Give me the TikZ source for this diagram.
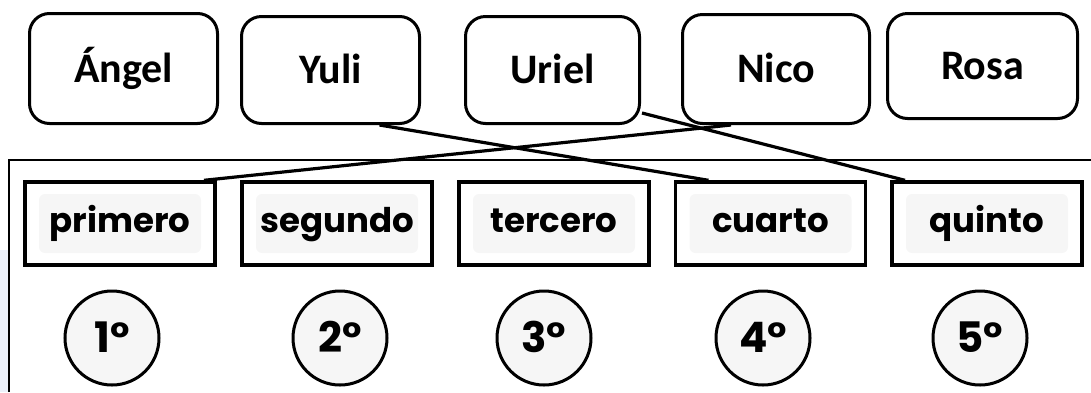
\documentclass[tikz,border=0pt]{standalone}
\usepackage{fontspec}
\newfontfamily\namefont{Carlito}
\newfontfamily\wordfont{Poppins}
\definecolor{edgeblue}{RGB}{236,241,250}
\begin{document}
\begin{tikzpicture}[x=1pt,y=-1pt,
  namebox/.style={draw, line width=3pt, rounded corners=20pt, inner sep=0pt,
    font=\namefont\bfseries\fontsize{42}{50}\selectfont, text height=27pt, text depth=0pt},
  wordbox/.style={draw, line width=3.4pt, inner sep=0pt, minimum width=190pt, minimum height=83pt,
    font=\wordfont\bfseries\fontsize{34}{40}\selectfont, text height=18pt, text depth=0pt,
    path picture={\fill[gray!7, rounded corners=6pt]
      ([shift={(14pt,-12pt)}]path picture bounding box.north west) rectangle
      ([shift={(-14pt,12pt)}]path picture bounding box.south east);}},
  ordcirc/.style={circle, draw, line width=3pt, fill=gray!7, inner sep=0pt, minimum size=94pt,
    font=\wordfont\bfseries\fontsize{42}{48}\selectfont, text height=29pt, text depth=0pt},
  link/.style={line width=3.2pt},
  frameline/.style={line width=1.4pt}]
\useasboundingbox (0,0) rectangle (1091,392);
\fill[edgeblue] (0,250) rectangle (8,392);
\draw[frameline] (9,392) -- (9,160) -- (1091,160);
% name boxes
\node[namebox, minimum width=188pt, minimum height=110pt] (angel) at (123.5,68.5) {Ángel};
\node[namebox, minimum width=178pt, minimum height=107pt] (yuli) at (330.5,70) {Yuli};
\node[namebox, minimum width=174pt, minimum height=107pt] (uriel) at (552.5,70) {Uriel};
\node[namebox, minimum width=187pt, minimum height=109pt] (nico) at (776,69) {Nico};
\node[namebox, minimum width=190pt, minimum height=105pt] (rosa) at (982.5,66) {Rosa};
% word boxes
\node[wordbox] (primero) at (120,223.5) {primero};
\node[wordbox] (segundo) at (337,223.5) {segundo};
\node[wordbox] (tercero) at (554,223.5) {tercero};
\node[wordbox] (cuarto) at (770.5,223.5) {cuarto};
\node[wordbox] (quinto) at (987,223.5) {quinto};
% ordinal circles
\node[ordcirc] (c1) at (112,338) {1°};
\node[ordcirc] (c2) at (340,338) {2°};
\node[ordcirc] (c3) at (544,338) {3°};
\node[ordcirc] (c4) at (763,338) {4°};
\node[ordcirc] (c5) at (980,338) {5°};
% connectors
\draw[link] ([xshift=-45pt]nico.south) -- ([xshift=84pt]primero.north);
\draw[link] ([xshift=49pt]yuli.south) -- ([xshift=-62pt]cuarto.north);
\draw[link] ([xshift=1pt,yshift=12pt]uriel.south east) -- ([xshift=-82pt]quinto.north);
\end{tikzpicture}
\end{document}
